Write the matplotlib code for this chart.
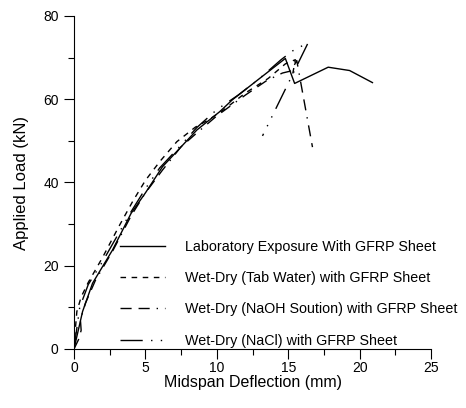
import matplotlib
matplotlib.use("Agg")
from matplotlib import pyplot as plt
from matplotlib.ticker import MultipleLocator

plt.rcParams['font.family'] = ['Liberation Sans', 'DejaVu Sans']

# Laboratory exposure with GFRP sheet
lab_x = [0, 0.6, 1.3, 2.7, 4.0, 5.0, 6.2, 8.6, 10.2, 11.1, 13.0, 14.8, 15.45, 17.8, 19.3, 20.9]
lab_y = [0, 9.0, 15.8, 23.8, 32.6, 37.5, 43.8, 52.6, 57.0, 59.9, 65.0, 69.8, 63.8, 67.7, 66.9, 64.0]

# Wet-dry (tab water)
tab_x = [0, 0.1, 0.2, 0.5, 1.0, 2.0, 3.2, 4.1, 5.0, 6.0, 7.2, 8.5, 9.4, 10.5, 12.0, 13.6, 14.8, 15.5, 15.3]
tab_y = [0, 5.0, 9.0, 12.5, 16.0, 22.0, 29.8, 35.4, 40.5, 45.0, 49.8, 53.3, 55.0, 57.5, 61.5, 65.0, 68.5, 69.5, 65.8]

# Wet-dry (NaOH solution)
naoh_x = [0, 0.35, 0.5, 0.45, 0.8, 1.5, 2.7, 4.0, 5.0, 6.2, 7.5, 8.6, 10.0, 11.0, 12.0, 13.5, 14.6, 15.2, 15.6, 16.7]
naoh_y = [0, 2.5, 4.5, 7.0, 11.0, 16.5, 23.5, 32.0, 37.5, 43.0, 48.6, 51.9, 56.0, 58.5, 61.0, 64.5, 66.3, 66.8, 69.3, 48.5]

# Wet-dry (NaCl)
nacl_x = [0, 0.2, 0.4, 1.0, 2.0, 3.0, 4.0, 5.0, 6.0, 7.5, 8.6, 10.0, 11.5, 13.0, 14.5, 15.3, 16.4, 13.2]
nacl_y = [0, 5.0, 10.0, 15.5, 21.0, 27.0, 33.0, 38.5, 43.5, 49.0, 53.2, 57.5, 61.0, 65.0, 69.5, 71.6, 73.6, 51.2]

labels = ['Laboratory Exposure With GFRP Sheet',
          'Wet-Dry (Tab Water) with GFRP Sheet',
          'Wet-Dry (NaOH Soution) with GFRP Sheet',
          'Wet-Dry (NaCl) with GFRP Sheet']

fig = plt.figure(figsize=(4.66, 4.08), dpi=100)
ax = fig.add_axes([74 / 466, 59 / 408, 357 / 466, 333 / 408])

ax.plot(lab_x, lab_y, color='black', lw=1.0, label=labels[0])
ax.plot(tab_x, tab_y, color='black', lw=1.0, dashes=(4, 4), label=labels[1])
ax.plot(naoh_x, naoh_y, color='black', lw=1.0, dashes=(8, 5, 8, 5, 1, 5), label=labels[2])
ax.plot(nacl_x, nacl_y, color='black', lw=1.0, dashes=(16, 6, 1, 6, 1, 6), label=labels[3])

ax.set_xlim(0, 25)
ax.set_ylim(0, 80)
ax.xaxis.set_major_locator(MultipleLocator(5))
ax.xaxis.set_minor_locator(MultipleLocator(2.5))
ax.yaxis.set_major_locator(MultipleLocator(20))
ax.yaxis.set_minor_locator(MultipleLocator(10))
ax.tick_params(which='major', direction='out', length=7.5, width=0.8, labelsize=10)
ax.tick_params(axis='x', which='major', pad=1)
ax.tick_params(which='minor', direction='out', length=4, width=0.8)
for side in ['top', 'right']:
    ax.spines[side].set_visible(False)

ax.set_xlabel('Midspan Deflection (mm)', fontsize=11.5, labelpad=0)
ax.set_ylabel('Applied Load (kN)', fontsize=12, labelpad=10)

ax.legend(loc='upper left', bbox_to_anchor=(0.129, 0.327), frameon=False,
          fontsize=10.3, handlelength=3.15, handletextpad=1.4, labelspacing=1.2,
          borderpad=0, borderaxespad=0)

plt.savefig('out.png', dpi=100)
